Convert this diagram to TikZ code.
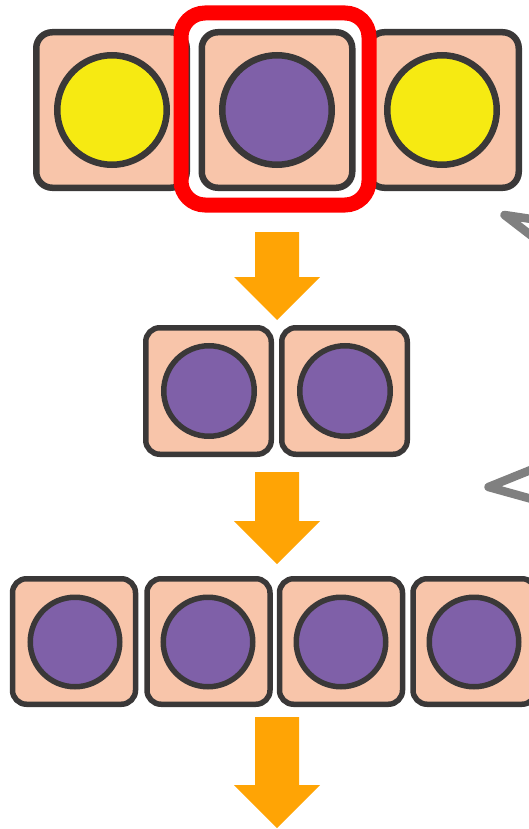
\documentclass[tikz,border=0pt]{standalone}
\definecolor{peach}{HTML}{F8C5AA}
\definecolor{dark}{HTML}{3A3838}
\definecolor{yel}{HTML}{F6EA12}
\definecolor{purp}{HTML}{7F60A8}
\definecolor{redsel}{HTML}{FF0000}
\definecolor{orng}{HTML}{FFA405}
\definecolor{grayc}{HTML}{808080}
\begin{document}
\begin{tikzpicture}[x=1pt,y=-1pt,
  bigcell/.style={draw=dark, fill=peach, line width=6.5pt, rounded corners=16pt,
    minimum width=150.5pt, minimum height=155.5pt, inner sep=0pt, outer sep=0pt},
  midcell/.style={draw=dark, fill=peach, line width=5.5pt, rounded corners=14pt,
    minimum width=125.5pt, minimum height=126.5pt, inner sep=0pt, outer sep=0pt},
  smallcell/.style={draw=dark, fill=peach, line width=5.5pt, rounded corners=14pt,
    minimum width=123pt, minimum height=125.5pt, inner sep=0pt, outer sep=0pt},
  bigball/.style={circle, draw=dark, line width=6.5pt, minimum size=109.5pt, inner sep=0pt},
  midball/.style={circle, draw=dark, line width=5.5pt, minimum size=90.5pt, inner sep=0pt},
  smallball/.style={circle, draw=dark, line width=5.5pt, minimum size=89.5pt, inner sep=0pt},
  selbox/.style={draw=redsel, line width=15pt, rounded corners=24pt,
    minimum width=188pt, minimum height=192pt, inner sep=0pt},
  downarrow/.style={fill=orng},
  chevron/.style={draw=grayc, line width=8.5pt, line cap=round, line join=round}
]
\useasboundingbox (0,0) rectangle (529,829);

% row 1
\node[bigcell] (a1) at (111.5,110) {};
\node[bigcell] (a2) at (277,110) {};
\node[bigcell] (a3) at (443.5,110) {};
\node[bigball, fill=yel] (b1) at (112,110) {};
\node[bigball, fill=purp] (b2) at (277,110) {};
\node[bigball, fill=yel] (b3) at (442,110) {};
\node[selbox] (sel) at (275,109) {};

% row 2
\node[midcell] (c1) at (208.5,391) {};
\node[midcell] (c2) at (344.5,391) {};
\node[midball, fill=purp] (d1) at (209,391) {};
\node[midball, fill=purp] (d2) at (345,391) {};

% row 3
\node[smallcell] (e1) at (74,641.5) {};
\node[smallcell] (e2) at (208.5,641.5) {};
\node[smallcell] (e3) at (341,641.5) {};
\node[smallcell] (e4) at (474.5,641.5) {};
\node[smallball, fill=purp] (f1) at (75,642) {};
\node[smallball, fill=purp] (f2) at (208,642) {};
\node[smallball, fill=purp] (f3) at (341,642) {};
\node[smallball, fill=purp] (f4) at (474,642) {};

% orange arrows
\fill[downarrow] (255,232) -- (299,232) -- (299,277) -- (320,277) -- (277,320)
  -- (234,277) -- (255,277) -- cycle;
\fill[downarrow] (255,472) -- (299,472) -- (299,521) -- (320,521) -- (277,564)
  -- (234,521) -- (255,521) -- cycle;
\fill[downarrow] (255,717) -- (299,717) -- (299,785) -- (320,785) -- (277,828)
  -- (234,785) -- (255,785) -- cycle;

% gray chevrons at the right edge
\coordinate (g1) at (504.5,215);
\coordinate (g1u) at (548,221.5);
\coordinate (g1l) at (548,248.5);
\draw[chevron] (g1u) -- (g1) -- (g1l);
\coordinate (g2) at (488.5,487);
\coordinate (g2u) at (548,463);
\coordinate (g2l) at (548,503.5);
\draw[chevron] (g2u) -- (g2) -- (g2l);
\end{tikzpicture}
\end{document}
